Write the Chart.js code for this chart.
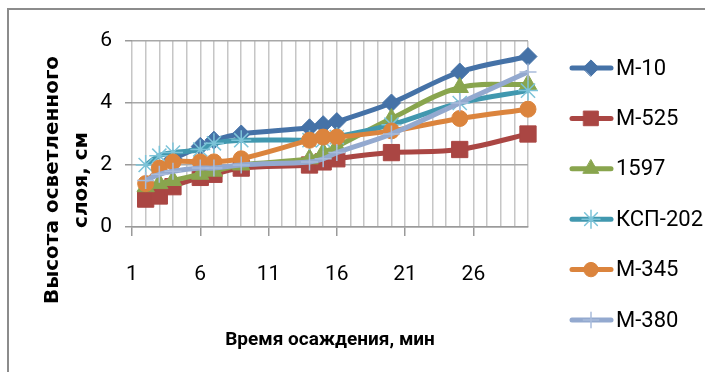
<!DOCTYPE html>
<html>
<head>
<meta charset="utf-8">
<script src="https://cdn.jsdelivr.net/npm/chart.js@4.4.0/dist/chart.umd.min.js"></script>
<style>
  html, body { margin: 0; padding: 0; background: #fff; overflow: hidden; }
  #wrap { position: relative; width: 705px; height: 372px; }
  #frame { position: absolute; left: 7px; top: 8px; width: 740px; height: 420px; border: 2px solid #8c8c8c; box-sizing: border-box; }
  #chart { position: absolute; left: 0; top: 0; }
</style>
</head>
<body>
<div id="wrap">
  <div id="frame"></div>
  <canvas id="chart" width="705" height="372"></canvas>
</div>
<script>
// settling time, min
const minutes = [2, 3, 4, 6, 7, 9, 14, 15, 16, 20, 25, 30];

// height of the clarified layer, cm (null = no reading)
const m10    = [null, null, 2.2, 2.6, 2.8, 3.0, 3.2, 3.3, 3.4, 4.0, 5.0, 5.5];
const m525   = [0.9, 1.0, 1.3, 1.6, 1.7, 1.9, 2.0, 2.1, 2.2, 2.4, 2.5, 3.0];
const s1597  = [1.3, 1.4, 1.5, 1.7, 1.8, 2.0, 2.2, 2.4, 2.6, 3.5, 4.5, 4.6];
const ksp202 = [2.0, 2.3, 2.4, 2.5, 2.7, 2.8, 2.8, 2.8, 2.9, 3.3, 4.0, 4.4];
const m345   = [1.4, 1.9, 2.1, 2.1, 2.1, 2.2, 2.8, 2.9, 2.9, 3.1, 3.5, 3.8];
const m380   = [1.5, 1.7, 1.8, 1.9, 1.9, 2.0, 2.1, 2.2, 2.4, 3.0, 4.0, 5.0];

const seriesNames = ['М-10', 'М-525', '1597', 'КСП-202', 'М-345', 'М-380'];
const xTickLabels = [1, 6, 11, 16, 21, 26];
const xTitle = 'Время осаждения, мин';
const yTitleLines = ['Высота осветленного', 'слоя, см'];

const seriesValues = [m10, m525, s1597, ksp202, m345, m380];
const colors = ['#4572A7', '#AA4643', '#89A54E', '#4198AF', '#DB843D', '#93A9CF'];
const markers = [
  { style: 'rectRot', radius: 9, border: 1, borderColor: '#4572A7' },
  { style: 'rect', radius: 11.5, border: 1, borderColor: '#AA4643' },
  { style: 'triangle', radius: 10, border: 1, borderColor: '#89A54E' },
  { style: 'star', radius: 10, border: 1.5, borderColor: '#7cc3d8' },
  { style: 'circle', radius: 8, border: 1, borderColor: '#DB843D' },
  { style: 'cross', radius: 8.5, border: 1.5, borderColor: '#a9bcdc' }
];

const tickFont = { family: "'Liberation Sans Narrow', Roboto, sans-serif", size: 21 };

const datasets = seriesNames.map((name, i) => ({
  label: name,
  data: minutes.map((m, j) => ({ x: m, y: seriesValues[i][j] })),
  borderColor: colors[i],
  backgroundColor: colors[i],
  borderWidth: 5,
  tension: 0.35,
  pointStyle: markers[i].style,
  pointRadius: markers[i].radius,
  pointBorderWidth: markers[i].border,
  pointBorderColor: markers[i].borderColor,
  pointBackgroundColor: colors[i],
  order: seriesNames.length - i, // later series on top
  clip: false
}));

// axis titles and the legend on the right
const titlesAndLegend = {
  id: 'titlesAndLegend',
  afterDraw(chart) {
    const ctx = chart.ctx;
    const area = chart.chartArea;
    ctx.save();
    ctx.fillStyle = '#000';
    ctx.textAlign = 'center';
    ctx.textBaseline = 'middle';
    ctx.font = "bold 19px 'Liberation Sans Narrow', Roboto, sans-serif";
    ctx.fillText(xTitle, (area.left + area.right) / 2, 340);

    ctx.save();
    ctx.translate(53, 180);
    ctx.rotate(-Math.PI / 2);
    ctx.font = "bold 20px 'DejaVu Sans', sans-serif";
    yTitleLines.forEach((line, k) => ctx.fillText(line, 0, k * 29));
    ctx.restore();

    ctx.textAlign = 'left';
    ctx.font = "22px 'Liberation Sans Narrow', Roboto, sans-serif";
    chart.data.datasets.forEach((ds, i) => {
      const y = 68 + i * 50.4;
      ctx.strokeStyle = ds.borderColor;
      ctx.lineWidth = 5;
      ctx.lineCap = 'round';
      ctx.beginPath();
      ctx.moveTo(572, y);
      ctx.lineTo(611, y);
      ctx.stroke();
      if (Chart.helpers && Chart.helpers.drawPoint) {
        ctx.fillStyle = ds.pointBackgroundColor;
        ctx.strokeStyle = ds.pointBorderColor;
        ctx.lineWidth = ds.pointBorderWidth;
        Chart.helpers.drawPoint(ctx, {
          pointStyle: ds.pointStyle,
          radius: ds.pointRadius * 0.9,
          borderWidth: ds.pointBorderWidth,
          rotation: 0
        }, 591, y);
      }
      ctx.fillStyle = '#000';
      ctx.fillText(ds.label, 616, y + 1);
    });
    ctx.restore();
  }
};

new Chart(document.getElementById('chart'), {
  type: 'line',
  data: { datasets },
  plugins: [titlesAndLegend],
  options: {
    responsive: false,
    animation: false,
    layout: { padding: { top: 41, right: 177, bottom: 0, left: 0 } },
    plugins: { legend: { display: false }, tooltip: { enabled: false } },
    scales: {
      x: {
        type: 'linear',
        min: 1,
        max: 30,
        ticks: {
          stepSize: 1,
          autoSkip: false,
          maxRotation: 0,
          padding: 26,
          color: '#000',
          font: tickFont,
          callback: v => (xTickLabels.includes(v) ? String(v) : '')
        },
        grid: {
          color: '#c6c6c6',
          lineWidth: 1.5,
          tickLength: 9,
          tickColor: c => (c.tick && xTickLabels.includes(c.tick.value) ? '#9a9a9a' : 'rgba(0,0,0,0)')
        },
        border: { color: '#9a9a9a', width: 1.5 },
        afterFit: s => { s.height = 145; }
      },
      y: {
        min: 0,
        max: 6,
        ticks: { stepSize: 2, padding: 13, color: '#000', font: tickFont },
        grid: { color: '#a8a8a8', lineWidth: 1.5, tickLength: 7, tickColor: '#9a9a9a' },
        border: { display: false },
        afterFit: s => { s.width = 132; }
      }
    }
  }
});
</script>
</body>
</html>
